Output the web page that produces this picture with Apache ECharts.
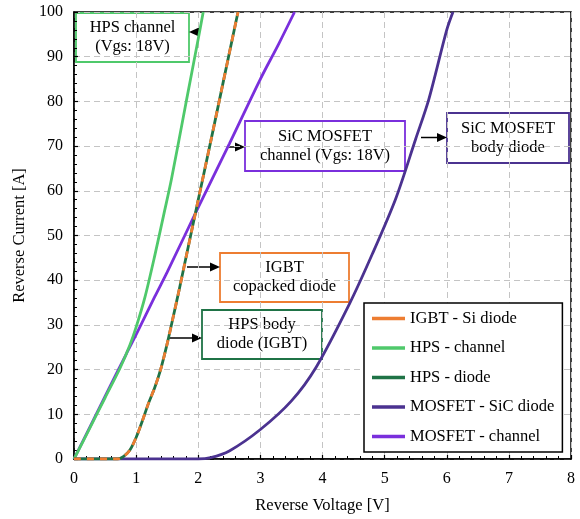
<!DOCTYPE html>
<html>
<head>
<meta charset="utf-8">
<script src="https://cdn.jsdelivr.net/npm/echarts@6/dist/echarts.min.js"></script>
<style>
  html, body { margin: 0; padding: 0; background: #fff; }
  #chart { width: 580px; height: 519px; }
</style>
</head>
<body>
<div id="chart"></div>
<script>
// [voltage V, current A]
var hpsChannel = [[0, 0], [0.25, 6.8], [0.5, 13.7], [0.74, 20.3], [0.9, 25.5], [1.0, 29.5], [1.14, 36.1], [1.3, 45.5], [1.45, 55], [1.57, 62.7], [1.8, 79.5], [2.0, 94], [2.08, 100]];
var mosChannel = [[0, 0], [0.5, 14], [0.845, 23.6], [1.0, 27.8], [1.3, 36.3], [1.5, 41.8], [2.0, 56.3], [2.5, 70.5], [3.0, 85], [3.3, 93], [3.55, 100]];
var igbtDiode = [[0, 0], [0.7, 0], [0.8, 0.6], [0.9, 2], [1.0, 4.8], [1.1, 8.5], [1.2, 12.5], [1.3, 16], [1.4, 20.3], [1.5, 25.8], [1.6, 32], [1.7, 38.3], [1.8, 44.9], [2.0, 58], [2.2, 71], [2.4, 84.2], [2.64, 100]];
var hpsDiode = igbtDiode; // same curve, drawn under the orange dashes
var sicDiode = [[0, 0], [2.0, 0], [2.2, 0.3], [2.5, 1.8], [3.0, 6.6], [3.5, 13], [3.9, 20.6], [4.43, 34.6], [4.8, 45.8], [5.18, 58.3], [5.5, 71.6], [5.71, 80.4], [6.0, 96], [6.1, 100]];
var legendNames = ['IGBT - Si diode', 'HPS - channel', 'HPS - diode', 'MOSFET - SiC diode', 'MOSFET - channel'];

var C_ORANGE = '#ed7d31', C_LGREEN = '#4fc96b', C_DGREEN = '#1f7346', C_DPURPLE = '#4b3290', C_VIOLET = '#7a2fdc';
var FONT = 'Liberation Serif';

var chart = echarts.init(document.getElementById('chart'));

function note(x, y, w, h, color, lines) {
  return {
    type: 'group',
    children: [
      { type: 'rect', shape: { x: x, y: y, width: w, height: h }, style: { fill: '#fff', stroke: color, lineWidth: 1.8 } },
      { type: 'text', x: x + w / 2, y: y + h / 2, style: { text: lines.join('\n'), font: '16.5px "' + FONT + '"', fill: '#000', align: 'center', verticalAlign: 'middle', lineHeight: 19 } }
    ]
  };
}
function arrow(x1, x2, y) {
  var dir = x2 > x1 ? 1 : -1;
  return {
    type: 'group',
    children: [
      { type: 'line', shape: { x1: x1, y1: y, x2: x2 - dir * 7, y2: y }, style: { stroke: '#000', lineWidth: 1.5 } },
      { type: 'polygon', shape: { points: [[x2, y], [x2 - dir * 10, y - 4.5], [x2 - dir * 10, y + 4.5]] }, style: { fill: '#000' } }
    ]
  };
}

function line(name, data, color, dash, z) {
  return {
    name: name, type: 'line', data: data, showSymbol: false, symbol: 'none',
    smooth: 0.3, z: z,
    itemStyle: { color: color },
    lineStyle: { color: color, width: 2.8, type: dash || 'solid' }
  };
}

var option = {
  animation: false,
  grid: { left: 74, right: 9, top: 12, bottom: 56, show: true, borderColor: '#000', borderWidth: 1.5, backgroundColor: 'transparent' },
  xAxis: {
    type: 'value', min: 0, max: 8, interval: 1,
    name: 'Reverse Voltage [V]', nameLocation: 'middle', nameGap: 38,
    nameTextStyle: { fontFamily: FONT, fontSize: 16.5, color: '#000' },
    axisLine: { show: true, lineStyle: { color: '#000', width: 1.5 } },
    axisTick: { show: true, inside: true, length: 4, lineStyle: { color: '#000', width: 1.2 } },
    minorTick: { show: true, splitNumber: 5, length: 3, lineStyle: { color: '#000', width: 1 } },
    axisLabel: { fontFamily: FONT, fontSize: 16, color: '#000', margin: 12 },
    splitLine: { show: true, lineStyle: { color: '#c4c4c4', width: 1, type: [6, 4] } }
  },
  yAxis: {
    type: 'value', min: 0, max: 100, interval: 10,
    name: 'Reverse Current [A]', nameLocation: 'middle', nameGap: 46, nameRotate: 90,
    nameTextStyle: { fontFamily: FONT, fontSize: 16.5, color: '#000' },
    axisLine: { show: true, lineStyle: { color: '#000', width: 1.5 } },
    axisTick: { show: true, inside: true, length: 4, lineStyle: { color: '#000', width: 1.2 } },
    minorTick: { show: true, splitNumber: 5, length: 3, lineStyle: { color: '#000', width: 1 } },
    axisLabel: { fontFamily: FONT, fontSize: 16, color: '#000', margin: 11 },
    splitLine: { show: true, lineStyle: { color: '#c4c4c4', width: 1, type: [6, 4] } }
  },
  legend: {
    data: legendNames, orient: 'vertical', left: 364, top: 303,
    icon: 'rect', itemWidth: 33, itemHeight: 3.5, itemGap: 12.5,
    padding: [7, 8, 7, 8],
    backgroundColor: '#fff', borderColor: '#000', borderWidth: 1.5,
    textStyle: { fontFamily: FONT, fontSize: 16.5, color: '#000' },
    selectedMode: false
  },
  series: [
    line('MOSFET - channel', mosChannel, C_VIOLET, null, 2),
    line('HPS - channel', hpsChannel, C_LGREEN, null, 3),
    line('MOSFET - SiC diode', sicDiode, C_DPURPLE, null, 3),
    line('HPS - diode', hpsDiode, C_DGREEN, null, 4),
    line('IGBT - Si diode', igbtDiode, C_ORANGE, [7, 6], 5)
  ],
  graphic: [
    note(76, 13, 113, 49, C_LGREEN, ['HPS channel', '(Vgs: 18V)']),
    arrow(199, 189, 32),
    note(245, 121, 160, 50, C_VIOLET, ['SiC MOSFET', 'channel (Vgs: 18V)']),
    arrow(229, 245, 147),
    note(447, 113, 122, 50, C_DPURPLE, ['SiC MOSFET', 'body diode']),
    arrow(421, 447, 137.5),
    note(220, 253, 129, 49, C_ORANGE, ['IGBT', 'copacked diode']),
    arrow(187, 220, 267),
    note(202, 310, 120, 49, C_DGREEN, ['HPS body', 'diode (IGBT)']),
    arrow(169, 202, 338)
  ]
};

chart.setOption(option);
</script>
</body>
</html>
